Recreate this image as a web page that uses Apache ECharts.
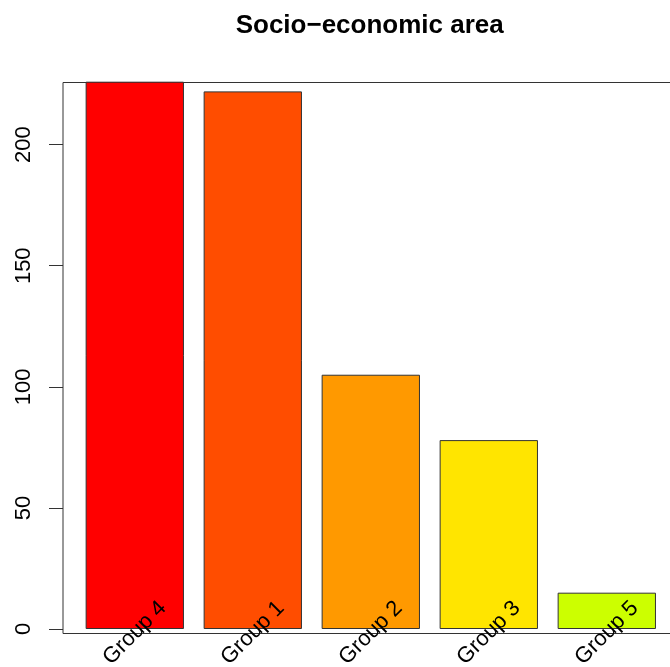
<!DOCTYPE html>
<html>
<head>
<meta charset="utf-8">
<script src="https://cdn.jsdelivr.net/npm/echarts@6/dist/echarts.min.js"></script>
<style>
html,body{margin:0;padding:0;background:#fff;}
#chart{width:670px;height:667px;}
</style>
</head>
<body>
<div id="chart"></div>
<script>
var categories = ['Group 4', 'Group 1', 'Group 2', 'Group 3', 'Group 5'];
var counts = [226, 222, 105, 78, 15];
var yTicks = [0, 50, 100, 150, 200];
var palette = ['#FF0000', '#FF4D00', '#FF9900', '#FFE500', '#CCFF00'];

var FONT = '"Liberation Sans", Arial, Helvetica, sans-serif';
var chart = echarts.init(document.getElementById('chart'), null, {renderer: 'canvas'});
chart.setOption({
  animation: false,
  backgroundColor: '#fff',
  title: {
    text: 'Socio\u2212economic area',
    left: 364.7,
    textAlign: 'center',
    top: 8,
    textStyle: {fontFamily: FONT, fontSize: 26, fontWeight: 'bold', color: '#000'}
  },
  grid: [
    {left: 63, top: 82.5, width: 615.5, height: 551, show: true, borderColor: '#333', borderWidth: 1, backgroundColor: 'transparent', containLabel: false, outerBoundsMode: 'none'},
    {left: 75.8, top: 81.7, width: 590, height: 547.3, containLabel: false, outerBoundsMode: 'none'}
  ],
  xAxis: [
    {gridIndex: 0, type: 'value', show: false},
    {
      gridIndex: 1, type: 'category', data: categories, z: 10,
      axisLine: {show: false}, axisTick: {show: false},
      axisLabel: {
        interval: 0, rotate: 45, align: 'center', verticalAlign: 'middle', margin: 4,
        fontFamily: FONT, fontSize: 22, color: '#000'
      }
    }
  ],
  yAxis: [
    {gridIndex: 0, type: 'value', show: false},
    {
      gridIndex: 1, type: 'value', min: 0, max: 226, offset: 12.8,
      splitLine: {show: false},
      axisLine: {show: false},
      axisTick: {show: true, length: 14, customValues: yTicks, lineStyle: {color: '#333', width: 1}},
      axisLabel: {
        customValues: yTicks, rotate: 90, margin: 28,
        fontFamily: FONT, fontSize: 22, color: '#000'
      }
    }
  ],
  series: [{
    type: 'bar',
    xAxisIndex: 1, yAxisIndex: 1,
    barWidth: '83.33%',
    z: 2,
    data: counts.map(function (v, i) {
      return {value: v, itemStyle: {color: palette[i]}};
    }),
    itemStyle: {borderColor: '#333', borderWidth: 1}
  }]
});
</script>
</body>
</html>
